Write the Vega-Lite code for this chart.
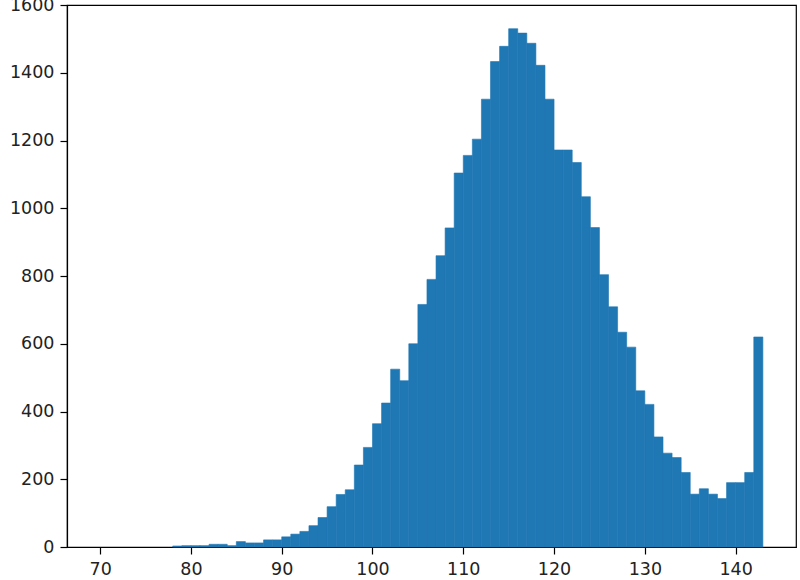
{
  "$schema": "https://vega.github.io/schema/vega-lite/v6.json",
  "width": 729,
  "height": 542,
  "autosize": {"type": "none"},
  "padding": {"left": 67, "top": 5, "right": 4, "bottom": 33},
  "background": "white",
  "config": {
    "view": {"stroke": "black", "strokeWidth": 1.2},
    "axis": {
      "domainColor": "black",
      "domainWidth": 1.2,
      "tickColor": "black",
      "tickWidth": 1.2,
      "tickSize": 7,
      "labelPadding": 6,
      "labelFont": "DejaVu Sans",
      "labelFontSize": 17.5,
      "labelColor": "#222",
      "grid": false,
      "title": null
    }
  },
  "data": {
    "values": [
      {"start": 78, "end": 79, "count": 3},
      {"start": 79, "end": 80, "count": 4},
      {"start": 80, "end": 81, "count": 4},
      {"start": 81, "end": 82, "count": 4},
      {"start": 82, "end": 83, "count": 8},
      {"start": 83, "end": 84, "count": 8},
      {"start": 84, "end": 85, "count": 4},
      {"start": 85, "end": 86, "count": 16},
      {"start": 86, "end": 87, "count": 12},
      {"start": 87, "end": 88, "count": 12},
      {"start": 88, "end": 89, "count": 21},
      {"start": 89, "end": 90, "count": 21},
      {"start": 90, "end": 91, "count": 30},
      {"start": 91, "end": 92, "count": 38},
      {"start": 92, "end": 93, "count": 46},
      {"start": 93, "end": 94, "count": 63},
      {"start": 94, "end": 95, "count": 87},
      {"start": 95, "end": 96, "count": 119},
      {"start": 96, "end": 97, "count": 155},
      {"start": 97, "end": 98, "count": 169},
      {"start": 98, "end": 99, "count": 242},
      {"start": 99, "end": 100, "count": 294},
      {"start": 100, "end": 101, "count": 364},
      {"start": 101, "end": 102, "count": 425},
      {"start": 102, "end": 103, "count": 525},
      {"start": 103, "end": 104, "count": 491},
      {"start": 104, "end": 105, "count": 600},
      {"start": 105, "end": 106, "count": 716},
      {"start": 106, "end": 107, "count": 790},
      {"start": 107, "end": 108, "count": 860},
      {"start": 108, "end": 109, "count": 942},
      {"start": 109, "end": 110, "count": 1104},
      {"start": 110, "end": 111, "count": 1156},
      {"start": 111, "end": 112, "count": 1204},
      {"start": 112, "end": 113, "count": 1322},
      {"start": 113, "end": 114, "count": 1433},
      {"start": 114, "end": 115, "count": 1478},
      {"start": 115, "end": 116, "count": 1530},
      {"start": 116, "end": 117, "count": 1517},
      {"start": 117, "end": 118, "count": 1487},
      {"start": 118, "end": 119, "count": 1422},
      {"start": 119, "end": 120, "count": 1322},
      {"start": 120, "end": 121, "count": 1172},
      {"start": 121, "end": 122, "count": 1172},
      {"start": 122, "end": 123, "count": 1135},
      {"start": 123, "end": 124, "count": 1034},
      {"start": 124, "end": 125, "count": 943},
      {"start": 125, "end": 126, "count": 804},
      {"start": 126, "end": 127, "count": 709},
      {"start": 127, "end": 128, "count": 634},
      {"start": 128, "end": 129, "count": 590},
      {"start": 129, "end": 130, "count": 461},
      {"start": 130, "end": 131, "count": 421},
      {"start": 131, "end": 132, "count": 325},
      {"start": 132, "end": 133, "count": 277},
      {"start": 133, "end": 134, "count": 264},
      {"start": 134, "end": 135, "count": 220},
      {"start": 135, "end": 136, "count": 156},
      {"start": 136, "end": 137, "count": 172},
      {"start": 137, "end": 138, "count": 156},
      {"start": 138, "end": 139, "count": 143},
      {"start": 139, "end": 140, "count": 190},
      {"start": 140, "end": 141, "count": 190},
      {"start": 141, "end": 142, "count": 220},
      {"start": 142, "end": 143, "count": 620}
    ]
  },
  "mark": {"type": "bar", "color": "#1f77b4", "stroke": "#1f77b4", "strokeWidth": 0.6},
  "encoding": {
    "x": {
      "field": "start",
      "type": "quantitative",
      "scale": {"domain": [66.35, 146.65], "nice": false, "zero": false},
      "axis": {"values": [70, 80, 90, 100, 110, 120, 130, 140], "format": "d"}
    },
    "x2": {"field": "end"},
    "y": {
      "field": "count",
      "type": "quantitative",
      "scale": {"domain": [0, 1600], "nice": false},
      "axis": {"values": [0, 200, 400, 600, 800, 1000, 1200, 1400, 1600], "format": "d"}
    },
    "y2": {"datum": 0}
  }
}
